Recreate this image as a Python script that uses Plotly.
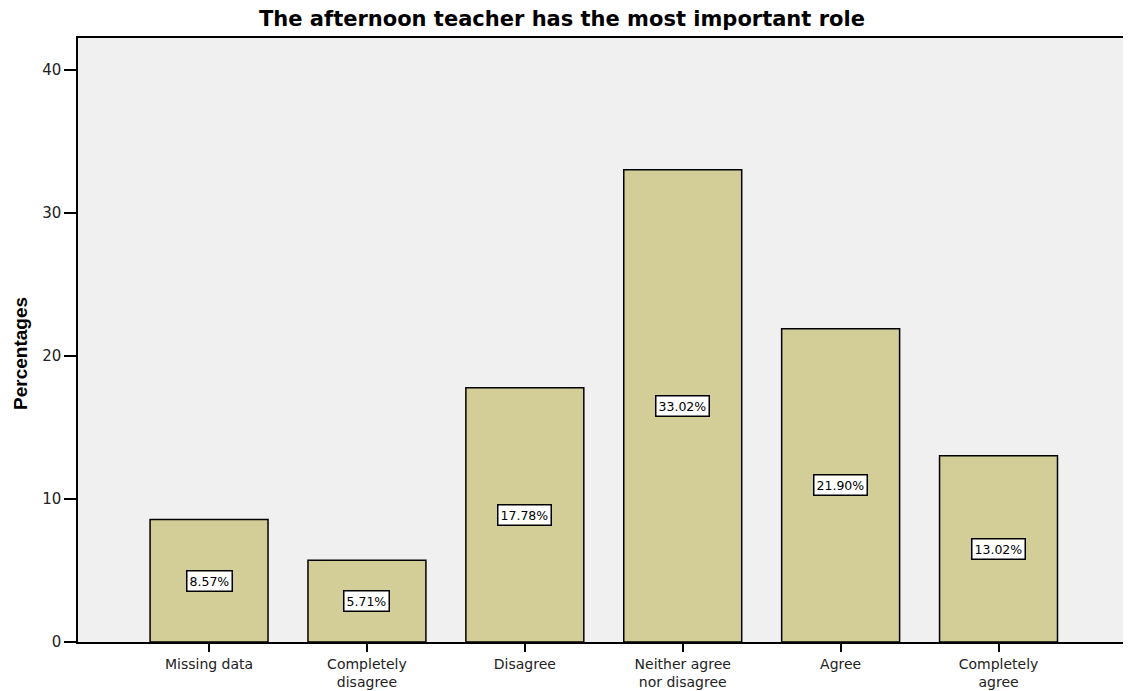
import plotly.graph_objects as go

categories = ["Missing data", "Completely<br>disagree", "Disagree", "Neither agree<br>nor disagree", "Agree", "Completely<br>agree"]
values = [8.57, 5.71, 17.78, 33.02, 21.90, 13.02]
labels = ["8.57%", "5.71%", "17.78%", "33.02%", "21.90%", "13.02%"]
y_ticks = [0, 10, 20, 30, 40]

xs = list(range(len(categories)))
FONT = "DejaVu Sans, Verdana, Arial"

fig = go.Figure()
fig.add_trace(go.Bar(
    x=xs, y=values, width=0.747,
    marker=dict(color="#D3CE98", line=dict(color="black", width=1.5)),
    hoverinfo="skip",
))

for x, v, t in zip(xs, values, labels):
    fig.add_annotation(x=x, y=v / 2, text=t, showarrow=False,
                       font=dict(family=FONT, size=12.5, color="black"),
                       bgcolor="white", bordercolor="black", borderwidth=1.5, borderpad=2)

# y-axis title (placed as annotation to match the reference's vertical offset)
fig.add_annotation(text="<b>Percentages</b>", xref="paper", yref="paper",
                   x=-0.0543, y=0.4785, xanchor="center", yanchor="middle",
                   textangle=-90, showarrow=False,
                   font=dict(family="Liberation Sans, Arial", size=19, color="black"))

# page has an 8px body margin, so the figure is sized/offset to compensate
fig.update_layout(
    width=1123, height=683,
    margin=dict(l=70, r=3, t=30, b=49, autoexpand=False),
    paper_bgcolor="white", plot_bgcolor="#F0F0F0",
    showlegend=False,
    title=dict(text="<b>The afternoon teacher has the most important role</b>",
               x=0.4933, xanchor="center", y=0.984, yanchor="middle",
               font=dict(family=FONT, size=21, color="black")),
    font=dict(family=FONT, size=14, color="#222"),
)
fig.update_xaxes(
    range=[-0.83, 5.82], tickmode="array", tickvals=xs, ticktext=categories,
    ticks="outside", ticklen=8, tickwidth=2, tickcolor="black",
    showline=True, linecolor="black", linewidth=1.5, mirror=True,
    showgrid=False, zeroline=False, fixedrange=True, automargin=False,
    tickfont=dict(family=FONT, size=14, color="#222"),
)
fig.update_yaxes(
    range=[0, 42.24], tickmode="array", tickvals=y_ticks,
    ticks="outside", ticklen=12, tickwidth=1.5, tickcolor="black",
    showline=True, linecolor="black", linewidth=1.5, mirror=True,
    showgrid=False, zeroline=False, automargin=False, fixedrange=True,
    tickfont=dict(family=FONT, size=15, color="#222"),
)

fig.write_html("out.html")
